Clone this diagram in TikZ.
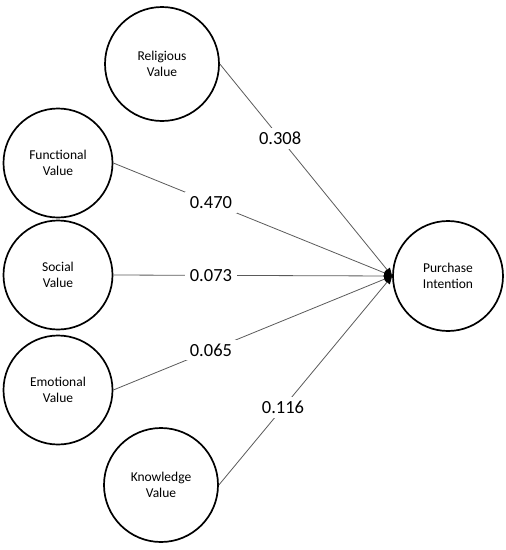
\documentclass[tikz,border=0pt]{standalone}
\usepackage{fontspec}
\setmainfont{Carlito}
\usepackage{xcolor}
\usetikzlibrary{arrows.meta,positioning}
\definecolor{pathline}{HTML}{5A5A5A}
\tikzset{
  construct/.style={circle,draw=black,line width=1.7pt,fill=white,minimum size=109pt,
    inner sep=0pt,align=center,font=\fontsize{13.5}{16}\selectfont},
  bigconstruct/.style={construct,minimum size=114pt},
  path/.style={-{Triangle[length=8pt,width=7pt,color=black]},draw=pathline,line width=0.8pt},
  coef/.style={fill=white,inner xsep=5pt,inner ysep=4pt,font=\fontsize{18.5}{20}\selectfont,pos=0.35}
}
\begin{document}
\begin{tikzpicture}[x=1pt,y=-1pt]
    \useasboundingbox (0,0) rectangle (506,550);
    \node[bigconstruct] (rel) at (162,64) {Religious\\Value};
    \node[construct] (fun) at (58,163) {Functional\\Value};
    \node[construct] (soc) at (58,275) {Social\\Value};
    \node[construct] (emo) at (58,390) {Emotional\\Value};
    \node[bigconstruct] (kno) at (161,485) {Knowledge\\Value};
    \node[construct,minimum size=110pt] (pi) at (448,276) {Purchase\\Intention};
    \draw[path] (rel.east)--node[coef] {0.308}(pi.west);
    \draw[path] (fun.east)--node[coef] {0.470}(pi.west);
    \draw[path] (soc.east)--node[coef] {0.073}(pi.west);
    \draw[path] (emo.east)--node[coef] {0.065}(pi.west);
    \draw[path] (kno.east)--node[coef,pos=0.37] {0.116}(pi.west);
  \end{tikzpicture}
\end{document}
